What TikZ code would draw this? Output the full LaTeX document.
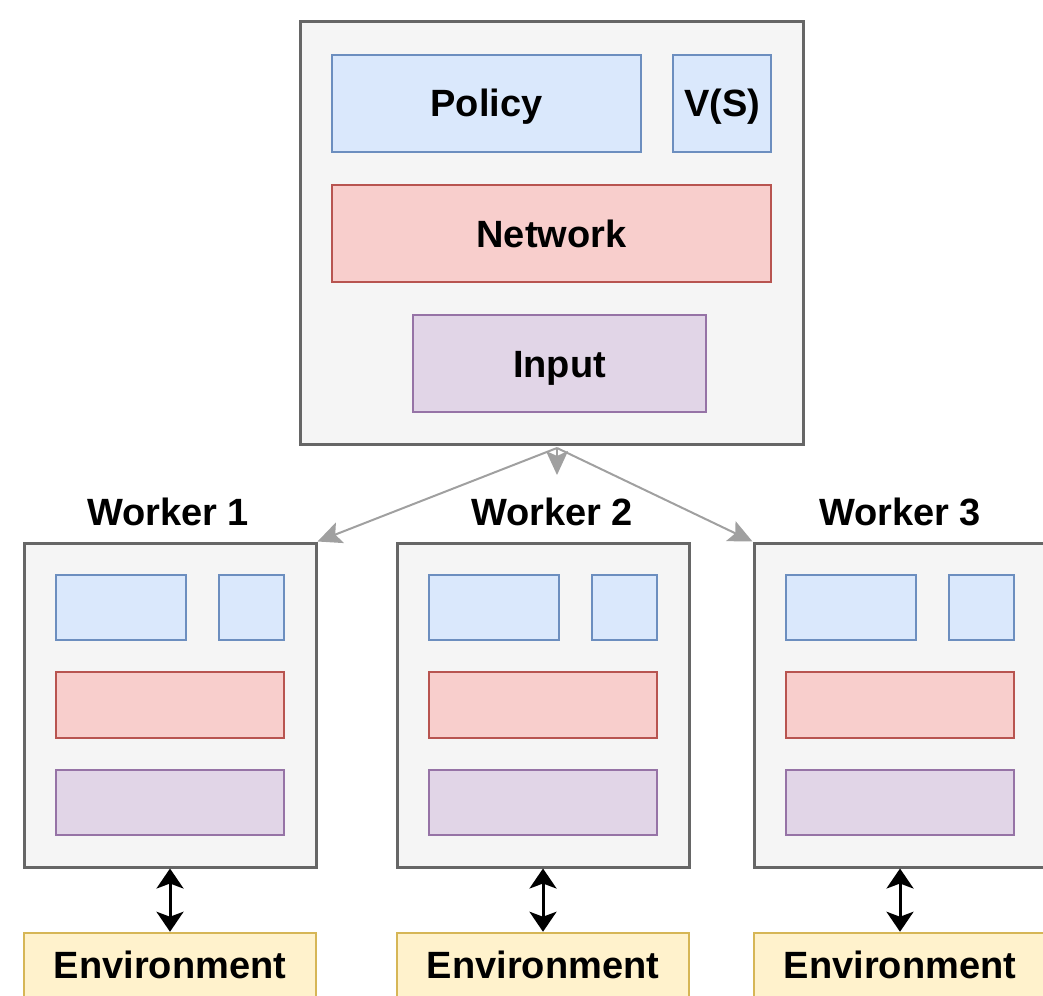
\documentclass[tikz,border=0pt]{standalone}
\usepackage{fontspec}
\setmainfont{Liberation Sans}
\usetikzlibrary{arrows.meta}

\definecolor{grayfill}{HTML}{F5F5F5}
\definecolor{grayline}{HTML}{666666}
\definecolor{bluefill}{HTML}{DAE8FC}
\definecolor{blueline}{HTML}{6C8EBF}
\definecolor{redfill}{HTML}{F8CECC}
\definecolor{redline}{HTML}{B85450}
\definecolor{purplefill}{HTML}{E1D5E7}
\definecolor{purpleline}{HTML}{9673A6}
\definecolor{yellowfill}{HTML}{FFF2CC}
\definecolor{yellowline}{HTML}{D6B656}
\definecolor{arrowgray}{HTML}{A0A0A0}

\begin{document}
\begin{tikzpicture}[x=1pt,y=-1pt,
    every node/.style={inner sep=0pt,text height=27pt,text depth=0pt,font=\fontsize{38}{44}\selectfont\bfseries},
    outer/.style={draw=grayline,fill=grayfill,line width=3pt},
    pol/.style={draw=blueline,fill=bluefill,line width=2.5pt,minimum height=97pt},
    net/.style={draw=redline,fill=redfill,line width=2.5pt,minimum height=97pt},
    inp/.style={draw=purpleline,fill=purplefill,line width=2.5pt,minimum height=97pt},
    worker/.style={outer,minimum width=292pt,minimum height=324pt},
    wpol/.style={pol,minimum height=65pt},
    wnet/.style={net,minimum height=66pt,minimum width=228pt},
    winp/.style={inp,minimum height=65pt,minimum width=228pt},
    env/.style={draw=yellowline,fill=yellowfill,line width=2.5pt,minimum width=292pt,minimum height=64pt},
    sync/.style={draw=arrowgray,line width=2pt,-{Stealth[length=24pt,width=22pt,inset=5pt]}},
    act/.style={line width=3pt,{Stealth[length=20pt,width=27pt,inset=5pt]}-{Stealth[length=20pt,width=27pt,inset=5pt]}}]

  \useasboundingbox (0,0) rectangle (1043,995);

  % global network
  \node[outer,minimum width=503pt,minimum height=422pt] (global) at (551.5,233) {};
  \node[pol,minimum width=309pt] (policy) at (486.5,103.5) {Policy};
  \node[pol,minimum width=98pt] (value) at (722,103.5) {V(S)};
  \node[net,minimum width=439pt] (network) at (551.5,233.5) {Network};
  \node[inp,minimum width=293pt] (input) at (559.5,363.5) {Input};

  % workers
  \node (lw1) at (168,512) {Worker 1};
  \node (lw2) at (552,512) {Worker 2};
  \node (lw3) at (900,512) {Worker 3};

  \node[worker] (w1) at (170,705) {};
  \node[wpol,minimum width=130pt] (p1) at (121,607.5) {};
  \node[wpol,minimum width=65pt] (v1) at (251.5,607.5) {};
  \node[wnet] (n1) at (170,705) {};
  \node[winp] (i1) at (170,802.5) {};

  \node[worker] (w2) at (543,705) {};
  \node[wpol,minimum width=130pt] (p2) at (494,607.5) {};
  \node[wpol,minimum width=65pt] (v2) at (624.5,607.5) {};
  \node[wnet] (n2) at (543,705) {};
  \node[winp] (i2) at (543,802.5) {};

  \node[worker] (w3) at (900,705) {};
  \node[wpol,minimum width=130pt] (p3) at (851,607.5) {};
  \node[wpol,minimum width=65pt] (v3) at (981.5,607.5) {};
  \node[wnet] (n3) at (900,705) {};
  \node[winp] (i3) at (900,802.5) {};

  % environments
  \node[env] (e1) at (170,965) {Environment};
  \node[env] (e2) at (543,965) {Environment};
  \node[env] (e3) at (900,965) {Environment};

  \coordinate (hub) at (557,448);
  \coordinate (hubtip) at (557,475);

  \draw[sync] (hub) -- (w1.north east);
  \draw[sync] (hub) -- (w3.north west);
  \draw[sync] (hub) -- (hubtip);

  \draw[act] (w1) -- (e1);
  \draw[act] (w2) -- (e2);
  \draw[act] (w3) -- (e3);
\end{tikzpicture}
\end{document}
